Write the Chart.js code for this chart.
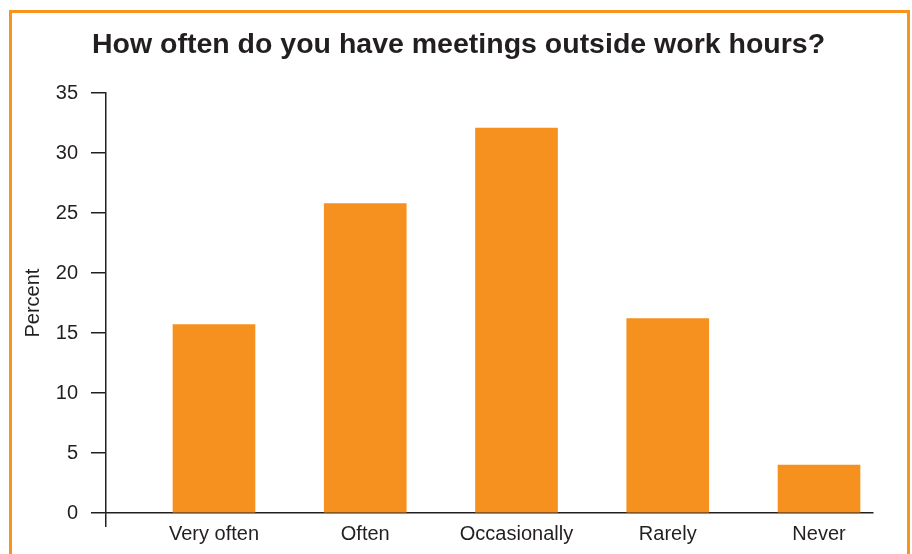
<!DOCTYPE html>
<html>
<head>
<meta charset="utf-8">
<script src="https://cdn.jsdelivr.net/npm/chart.js@4"></script>
<style>
    html, body { margin: 0; padding: 0; background: #ffffff; overflow: hidden; }
    #wrap { position: relative; width: 912px; height: 554px; }
    #frame {
        position: absolute; left: 9px; top: 10px; width: 901px; height: 600px;
        box-sizing: border-box; border: 3px solid #f7941d; pointer-events: none;
    }
    canvas { position: absolute; left: 0; top: 0; }
</style>
</head>
<body>
<div id="wrap">
    <canvas id="myChart" width="912" height="554"></canvas>
    <div id="frame"></div>
</div>
<script>
const categories = ['Very often', 'Often', 'Occasionally', 'Rarely', 'Never'];
const percentValues = [15.7, 25.8, 32.1, 16.2, 4.0];
const yTicks = [0, 5, 10, 15, 20, 25, 30, 35];

document.addEventListener("DOMContentLoaded", function () {
    const ink = '#231f20';
    const font = { family: "'Liberation Sans', Arial, sans-serif", size: 20 };

    let points = percentValues.map((v, i) => ({ x: i, y: v }));

    let ctx = document.getElementById('myChart').getContext('2d');
    let chart = new Chart(ctx, {
        type: 'bar',
        data: {
            datasets: [{
                label: 'Percent',
                data: points,
                backgroundColor: '#f6901e',
                borderWidth: 0,
                barThickness: 82
            }]
        },
        options: {
            responsive: false,
            animation: false,
            // left/right padding keeps the title centred where the original has it
            layout: { padding: { left: 44, right: 39, top: 0, bottom: 0 } },
            plugins: {
                legend: { display: false },
                tooltip: { enabled: false },
                title: {
                    display: true,
                    text: 'How often do you have meetings outside work hours?',
                    color: ink,
                    font: { family: font.family, size: 28.5, weight: 'bold' },
                    padding: { top: 28, bottom: 31 }
                }
            },
            scales: {
                x: {
                    type: 'linear',
                    offset: false,
                    min: -0.714,
                    max: 4.357,
                    afterBuildTicks: scale => {
                        scale.ticks = [{ value: scale.min }].concat(categories.map((c, i) => ({ value: i })));
                    },
                    afterFit: scale => { scale.height = 41; },
                    ticks: {
                        autoSkip: false,
                        maxRotation: 0,
                        padding: -5,
                        color: ink,
                        font: font,
                        callback: value => Number.isInteger(value) ? categories[value] : ''
                    },
                    grid: {
                        offset: false,
                        drawOnChartArea: false,
                        drawTicks: true,
                        tickLength: 14,
                        lineWidth: 1.5,
                        color: c => c.index === 0 ? ink : 'rgba(0,0,0,0)'
                    },
                    border: { display: true, color: ink, width: 1.5 }
                },
                y: {
                    min: 0,
                    max: 35,
                    afterBuildTicks: scale => {
                        scale.ticks = yTicks.map(v => ({ value: v }));
                    },
                    afterFit: scale => { scale.width = 62; },
                    ticks: { padding: 13, color: ink, font: font },
                    grid: {
                        drawOnChartArea: false,
                        drawTicks: true,
                        tickLength: 15,
                        lineWidth: 1.5,
                        color: ink
                    },
                    border: { display: true, color: ink, width: 1.5 },
                    title: {
                        display: true,
                        text: 'Percent',
                        color: ink,
                        font: font,
                        padding: { top: -22.5, bottom: 0 }
                    }
                }
            }
        }
    });
});
</script>
</body>
</html>
